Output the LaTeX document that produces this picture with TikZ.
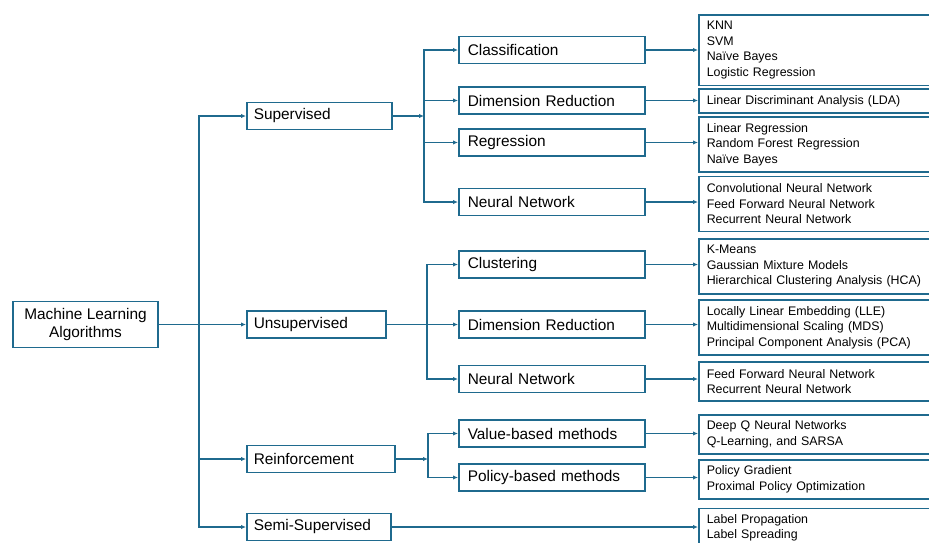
\documentclass[tikz,border=0pt]{standalone}
\usepackage{fontspec}
\setmainfont{Liberation Sans}
\usepackage{xcolor}
\usepackage{tikz}
\usetikzlibrary{arrows.meta}

\definecolor{mlblue}{RGB}{31,106,142}

\tikzset{
  box/.style={draw=mlblue, line width=1.5pt, rectangle, anchor=west, align=left, inner ysep=0pt},
  cat/.style={box, font=\fontsize{15.4}{18.5}\selectfont, minimum height=27pt},
  algo/.style={box, font=\fontsize{12.4}{15.5}\selectfont, text width=240pt, inner xsep=8pt},
  link/.style={draw=mlblue, line width=1.6pt, -{Latex[length=5pt,width=4.5pt]}},
}

\begin{document}
\begin{tikzpicture}[x=1pt, y=-1pt]
          \clip (0,0) rectangle (929,542);

          \node[cat, anchor=center, align=center, minimum width=145pt, minimum height=46pt] (root) at (85.5,324.5) {Machine Learning\\Algorithms};

          \foreach \name/\y/\w/\txt in {sup/116/131/Supervised, unsup/324.5/125/Unsupervised, reinf/459/134/Reinforcement, semi/527/130/Semi-Supervised}{%
            \node[cat, text width=\w pt, inner xsep=7pt] (\name) at (246,\y) {\txt};
          }
          \foreach \name/\y/\txt in {cls/50/Classification, drs/100.5/Dimension Reduction, reg/142.5/Regression, nns/202/Neural Network, clu/264.5/Clustering, dru/324.5/Dimension Reduction, nnu/379/Neural Network, val/433.5/Value-based methods, pol/477.5/Policy-based methods}{%
            \node[cat, text width=168pt, inner xsep=9pt] (\name) at (458,\y) {\txt};
          }
          \foreach \name/\y/\h/\txt in {lcls/50/70.5/{KNN\\SVM\\Naïve Bayes\\Logistic Regression},
                                       llda/101/24/{Linear Discriminant Analysis (LDA)},
                                       lreg/144.5/55/{Linear Regression\\Random Forest Regression\\Naïve Bayes},
                                       lnns/204/55/{Convolutional Neural Network\\Feed Forward Neural Network\\Recurrent Neural Network},
                                       lclu/266.5/55/{K-Means\\Gaussian Mixture Models\\Hierarchical Clustering Analysis (HCA)},
                                       ldru/327.5/55/{Locally Linear Embedding (LLE)\\Multidimensional Scaling (MDS)\\Principal Component Analysis (PCA)},
                                       lnnu/381.5/39/{Feed Forward Neural Network\\Recurrent Neural Network},
                                       lval/434.5/39/{Deep Q Neural Networks\\Q-Learning, and SARSA},
                                       lpol/479.5/39/{Policy Gradient\\Proximal Policy Optimization},
                                       lsemi/528/39/{Label Propagation\\Label Spreading}}{%
            \node[algo, minimum height=\h pt] (\name) at (698,\y) {\txt};
          }

          \coordinate (trunk) at (199,324.5);
          \coordinate (supfork) at (424,116);
          \coordinate (unsfork) at (427,324.5);
          \coordinate (reifork) at (428,459);

          \draw[link] (root.east) -- (unsup.west);
          \foreach \n in {sup, reinf, semi} \draw[link] (trunk) |- (\n.west);

          \draw[link] (sup.east) -- (supfork);
          \foreach \n in {cls, drs, reg, nns} \draw[link] (supfork) |- (\n.west);

          \draw[link] (unsup.east) -- (dru.west);
          \foreach \n in {clu, nnu} \draw[link] (unsfork) |- (\n.west);

          \draw[link] (reinf.east) -- (reifork);
          \foreach \n in {val, pol} \draw[link] (reifork) |- (\n.west);

          \foreach \a/\b in {cls/lcls, drs/llda, reg/lreg, nns/lnns, clu/lclu, dru/ldru, nnu/lnnu, val/lval, pol/lpol, semi/lsemi}
            \draw[link] (\a.east) -- (\a.east -| \b.west);
\end{tikzpicture}
\end{document}
